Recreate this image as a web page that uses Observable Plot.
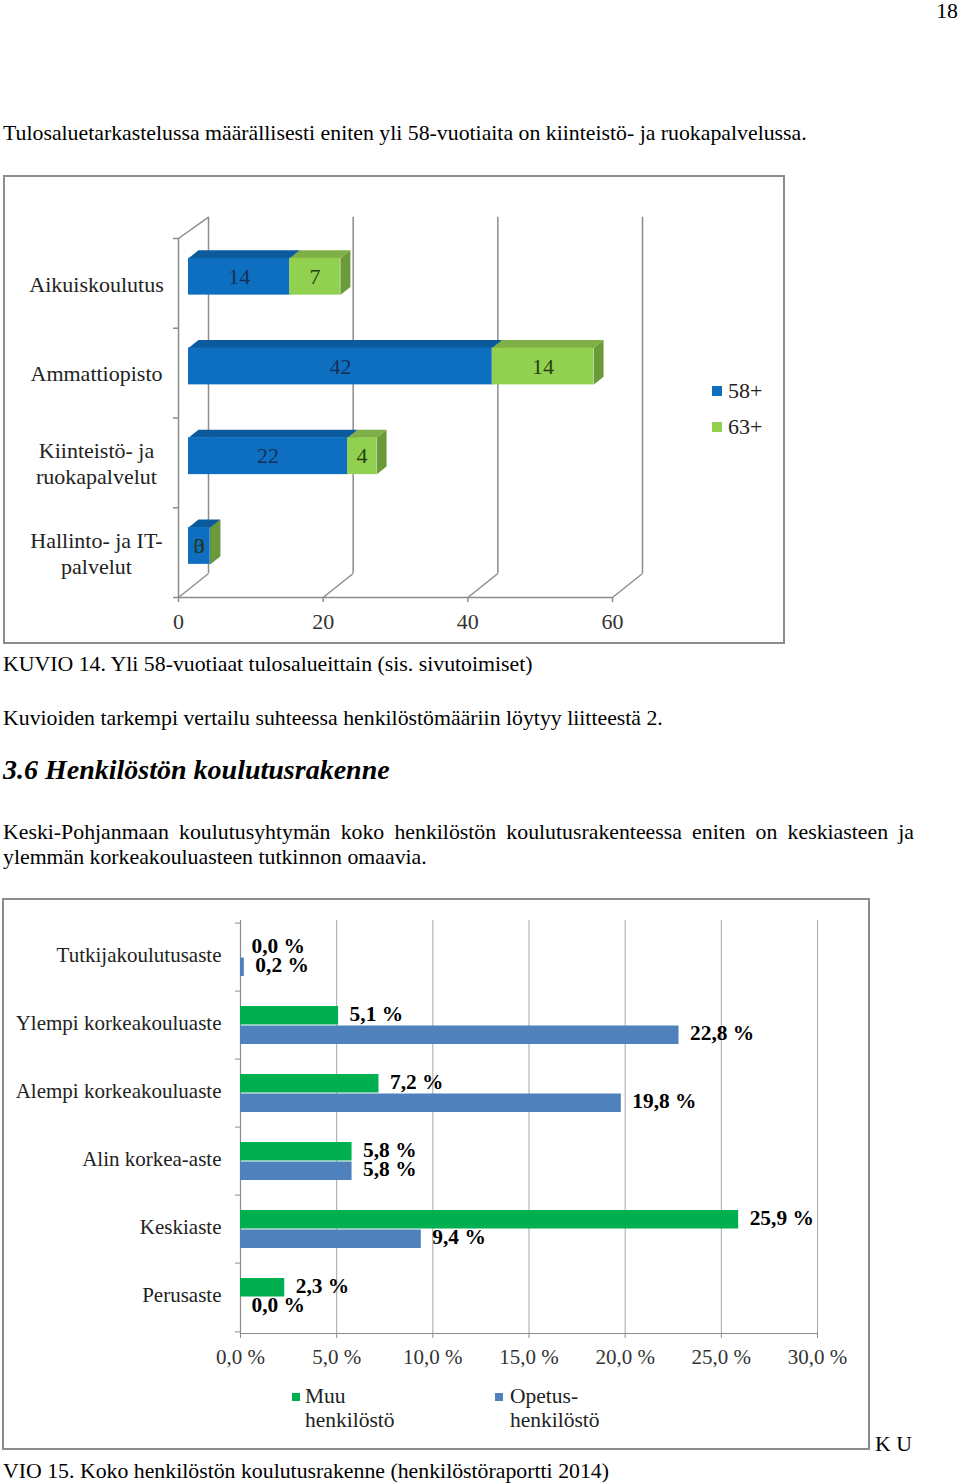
<!DOCTYPE html>
<html><head><meta charset="utf-8">
<script src="https://cdn.jsdelivr.net/npm/d3@7"></script>
<script src="https://cdn.jsdelivr.net/npm/@observablehq/plot@0.6"></script>
<style>
html,body{margin:0;padding:0;background:#fff;}
#page{position:relative;width:960px;height:1484px;font-family:"Liberation Serif","Times New Roman",serif;color:#000;overflow:hidden;}
.t{position:absolute;white-space:nowrap;font-size:21.8px;line-height:20px;}
.frame{position:absolute;border:2px solid #8c8c8c;box-sizing:border-box;z-index:3;pointer-events:none;}
.chart{position:absolute;z-index:1;}
.sq{position:absolute;z-index:4;}
.lg{position:absolute;z-index:4;font-size:21.5px;line-height:24px;white-space:nowrap;color:#222;}
</style></head><body><div id="page">
<div class="t" style="right:2px;top:0px;line-height:22px;">18</div>
<div class="t" style="left:3px;top:123px;">Tulosaluetarkastelussa määrällisesti eniten yli 58-vuotiaita on kiinteistö- ja ruokapalvelussa.</div>
<div class="frame" style="left:3px;top:175px;width:782px;height:469px;"></div>
<div class="chart" id="c1" style="left:0px;top:175px;width:785px;height:468px;"></div>
<div class="sq" style="left:712px;top:386px;width:10px;height:10px;background:#0e6fc1;"></div>
<div class="lg" style="left:728px;top:379px;font-size:22px;">58+</div>
<div class="sq" style="left:712px;top:422px;width:10px;height:10px;background:#92d050;"></div>
<div class="lg" style="left:728px;top:415px;font-size:22px;">63+</div>
<div class="t" style="left:3px;top:654px;">KUVIO 14. Yli 58-vuotiaat tulosalueittain (sis. sivutoimiset)</div>
<div class="t" style="left:3px;top:708px;">Kuvioiden tarkempi vertailu suhteessa henkilöstömääriin löytyy liitteestä 2.</div>
<div class="t" style="left:3px;top:756px;font-size:28px;line-height:28px;font-weight:bold;font-style:italic;">3.6 Henkilöstön koulutusrakenne</div>
<div class="t" style="left:3px;top:820px;width:911px;white-space:normal;line-height:25px;text-align:justify;">Keski-Pohjanmaan koulutusyhtymän koko henkilöstön koulutusrakenteessa eniten on keskiasteen ja ylemmän korkeakouluasteen tutkinnon omaavia.</div>
<div class="frame" style="left:2px;top:898px;width:868px;height:552px;"></div>
<div class="chart" id="c2" style="left:0px;top:899px;width:869px;height:480px;"></div>
<div class="sq" style="left:292px;top:1393px;width:8px;height:8px;background:#00b050;"></div>
<div class="lg" style="left:305px;top:1384px;">Muu<br>henkilöstö</div>
<div class="sq" style="left:495px;top:1393px;width:8px;height:8px;background:#4f81bd;"></div>
<div class="lg" style="left:510px;top:1384px;">Opetus-<br>henkilöstö</div>
<div class="t" style="left:875px;top:1434px;">K U</div>
<div class="t" style="left:3px;top:1461px;">VIO 15. Koko henkilöstön koulutusrakenne (henkilöstöraportti 2014)</div>
</div>
<script>
// ---------- Chart 1 data ----------
const cats1 = ["Aikuiskoulutus", "Ammattiopisto", "Kiinteistö- ja\nruokapalvelut", "Hallinto- ja IT-\npalvelut"];
const series1 = ["58+", "63+"];
const v58 = [14, 42, 22, 3];
const v63 = [7, 14, 4, 0];
const ticks1 = [0, 20, 40, 60];

// ---------- Chart 2 data ----------
const cats2 = ["Tutkijakoulutusaste", "Ylempi korkeakouluaste", "Alempi korkeakouluaste", "Alin korkea-aste", "Keskiaste", "Perusaste"];
const series2 = ["Muu henkilöstö", "Opetushenkilöstö"];
const muu = [0.0, 5.1, 7.2, 5.8, 25.9, 2.3];
const opetus = [0.2, 22.8, 19.8, 5.8, 9.4, 0.0];
const ticks2 = [0, 5, 10, 15, 20, 25, 30];

const SERIF = '"Liberation Serif","Times New Roman",serif';
const GRAY = "#8c8c8c";

// ---------- Chart 1 ----------
{
  const W = 785, H = 468, mL = 178, mR = 173, mT = 63, mB = 46;
  const pxX = (W - mL - mR) / 60, pxY = (H - mT - mB) / 4;
  const D = 10, DY = 8;          // bar depth in px
  const BX = 30, BY = 24;        // back wall offset in px
  const dX = D / pxX, dY = DY / pxY;
  const col = {
    "58+": {front: "#0e6fc1", top: "#0b5a9c", side: "#0a5290", label: "#14305a"},
    "63+": {front: "#92d050", top: "#7fb047", side: "#6b9a38", label: "#263f10"}
  };
  const vals = {"58+": v58, "63+": v63};
  const segs = [];
  cats1.forEach((c, i) => {
    let x0 = 0;
    series1.forEach(s => {
      const v = vals[s][i];
      segs.push({id: i + "-" + s, cat: c, i, s, x0, x1: x0 + v, v, yT: i + 0.31, yB: i + 0.72});
      x0 += v;
    });
  });
  const tops = segs.flatMap(d => [[d.x0, d.yT], [d.x1, d.yT], [d.x1 + dX, d.yT - dY], [d.x0 + dX, d.yT - dY]]
    .map(([x, y]) => ({id: d.id, x, y, fill: col[d.s].top})));
  const sides = segs.flatMap(d => [[d.x1, d.yT], [d.x1 + dX, d.yT - dY], [d.x1 + dX, d.yB - dY], [d.x1, d.yB]]
    .map(([x, y]) => ({id: d.id, x, y, fill: col[d.s].side})));

  const p1 = Plot.plot({
    width: W, height: H, marginLeft: mL, marginRight: mR, marginTop: mT, marginBottom: mB,
    style: {background: "transparent", fontFamily: SERIF, fontSize: "22px"},
    x: {domain: [0, 60], axis: null},
    y: {domain: [0, 4], reverse: true, axis: null},
    color: {type: "identity"},
    marks: [
      Plot.ruleX(ticks1, {x: d => d, y1: 0.03, y2: 4, dx: BX, dy: -BY, stroke: GRAY, strokeWidth: 1.5}),
      Plot.link(ticks1, {x1: d => d, y1: 4, x2: d => d + BX / pxX, y2: 4 - BY / pxY, stroke: GRAY, strokeWidth: 1.5}),
      Plot.link([0], {x1: 0, y1: 0, x2: BX / pxX, y2: 0.03 - BY / pxY, stroke: GRAY, strokeWidth: 1.5}),
      Plot.ruleX([0], {x: d => d, y1: 0, y2: 4, stroke: GRAY, strokeWidth: 1.5}),
      Plot.ruleY([4], {y: d => d, x1: 0, x2: 60, stroke: GRAY, strokeWidth: 1.5}),
      Plot.ruleY([0, 1, 2, 3, 4], {y: d => d, x1: 0, x2: 0, insetLeft: -5, stroke: GRAY, strokeWidth: 1.5}),
      Plot.ruleX(ticks1, {x: d => d, y1: 4, y2: 4 + 5 / pxY, stroke: GRAY, strokeWidth: 1.5}),
      Plot.text(ticks1, {x: d => d, y: 4, dy: 24, text: d => String(d), fill: "#333", fontSize: 22}),
      Plot.text(cats1, {x: 0, y: (d, i) => i + 0.5, text: d => d, textAnchor: "middle", dx: -82, lineHeight: 1.18, fill: "#222", fontSize: 22}),
      Plot.line(sides, {x: "x", y: "y", z: "id", fill: "fill", stroke: "none", dx: D, dy: -DY}),
      Plot.line(tops, {x: "x", y: "y", z: "id", fill: "fill", stroke: "none", dx: D, dy: -DY}),
      Plot.rect(segs, {x1: "x0", x2: "x1", y1: "yT", y2: "yB", fill: d => col[d.s].front, dx: D, dy: -DY}),
      Plot.text(segs, {x: d => d.v ? (d.x0 + d.x1) / 2 : d.x0 / 2, y: d => (d.yT + d.yB) / 2, text: d => String(d.v),
        fill: d => col[d.s].label, dx: D, dy: -DY, fontSize: 22})
    ]
  });
  document.getElementById("c1").appendChild(p1);
}

// ---------- Chart 2 ----------
{
  const W = 869, H = 480, mL = 240, mR = 52, mT = 21, mB = 46;
  const bw = (H - mT - mB) / cats2.length;
  const fmt = v => v.toFixed(1).replace(".", ",") + " %";
  const rowsM = cats2.map((c, i) => ({cat: c, s: series2[0], v: muu[i]}));
  const rowsO = cats2.map((c, i) => ({cat: c, s: series2[1], v: opetus[i]}));
  const p2 = Plot.plot({
    width: W, height: H, marginLeft: mL, marginRight: mR, marginTop: mT, marginBottom: mB,
    style: {background: "transparent", fontFamily: SERIF, fontSize: "21px"},
    x: {domain: [0, 30], axis: null},
    y: {domain: cats2, padding: 0, axis: null},
    marks: [
      Plot.ruleX(ticks2.slice(1), {x: d => d, stroke: "#a6a6a6", strokeWidth: 1}),
      Plot.ruleX([0], {x: d => d, stroke: GRAY, strokeWidth: 1.2}),
      Plot.frame({anchor: "bottom", stroke: GRAY, strokeWidth: 1.2}),
      Plot.ruleY(cats2, {y: d => d, x1: 0, x2: 0, insetLeft: -5, dy: -bw / 2, stroke: GRAY}),
      Plot.ruleY(cats2.slice(-1), {y: d => d, x1: 0, x2: 0, insetLeft: -5, dy: bw / 2, stroke: GRAY}),
      Plot.axisX({ticks: ticks2, tickSize: 5, tickPadding: 11, tickFormat: fmt, label: null, stroke: GRAY, fill: "#333", fontSize: 21}),
      Plot.axisY({tickSize: 0, tickPadding: 19, label: null, fill: "#222", fontSize: 21, dy: -2.5}),
      Plot.barX(rowsM, {x: "v", y: "cat", fill: "#00b050", insetTop: 15, insetBottom: 34.5}),
      Plot.barX(rowsO, {x: "v", y: "cat", fill: "#4f81bd", insetTop: 34.5, insetBottom: 15}),
      Plot.text(rowsM, {x: "v", y: "cat", text: d => fmt(d.v), dx: 11, dy: -11.5, textAnchor: "start", fontWeight: "bold", fontSize: 21.4, fill: "#000"}),
      Plot.text(rowsO, {x: "v", y: "cat", text: d => fmt(d.v), dx: 11, dy: 7.5, textAnchor: "start", fontWeight: "bold", fontSize: 21.4, fill: "#000"})
    ]
  });
  document.getElementById("c2").appendChild(p2);
}
</script>
</body></html>
